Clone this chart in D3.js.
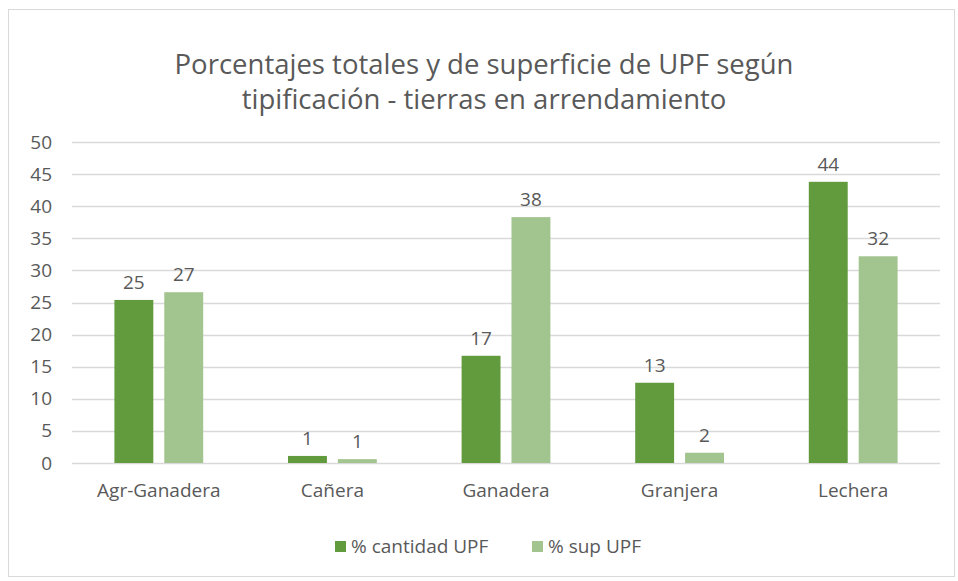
<!DOCTYPE html>
<html>
<head>
<meta charset="utf-8">
<script src="https://cdn.jsdelivr.net/npm/d3@7"></script>
<style>
  body { margin: 0; background: #fff; }
  text { font-family: "Open Sans", "Noto Sans", sans-serif; fill: #595959; }
</style>
</head>
<body>
<script>
// data
var categories = ["Agr-Ganadera", "Cañera", "Ganadera", "Granjera", "Lechera"];
var seriesNames = ["% cantidad UPF", "% sup UPF"];
var cantidad = [25.4, 1.1, 16.7, 12.5, 43.8];
var superficie = [26.6, 0.6, 38.3, 1.6, 32.2];
var yTicks = [0, 5, 10, 15, 20, 25, 30, 35, 40, 45, 50];
var colors = ["#629a3e", "#a2c48f"];

var W = 958, H = 581;
var plotLeft = 72, plotRight = 940, plotTop = 142, plotBottom = 463;
var fs = 19;

var svg = d3.select("body").append("svg")
  .attr("width", W)
  .attr("height", H);

svg.append("rect")
  .attr("x", 8.5).attr("y", 9.5)
  .attr("width", W - 12).attr("height", H - 14)
  .attr("fill", "#fff")
  .attr("stroke", "#d9d9d9");

// title
var title = svg.append("text")
  .attr("text-anchor", "middle")
  .attr("font-size", 27.5);
title.append("tspan").attr("x", 484).attr("y", 74).text("Porcentajes totales y de superficie de UPF según");
title.append("tspan").attr("x", 484).attr("y", 109).text("tipificación - tierras en arrendamiento");

var x = d3.scaleBand().domain(categories).range([plotLeft, plotRight]);
var x1 = d3.scaleBand().domain([0, 1]).range([0, x.bandwidth()]).paddingInner(0.22).paddingOuter(0.85);
var y = d3.scaleLinear().domain([0, 50]).range([plotBottom, plotTop]);

// grid
svg.append("g").selectAll("line")
  .data(yTicks)
  .enter().append("line")
  .attr("x1", plotLeft).attr("x2", plotRight)
  .attr("y1", function(d){ return Math.round(y(d)) + 0.5; })
  .attr("y2", function(d){ return Math.round(y(d)) + 0.5; })
  .attr("stroke", "#d9d9d9")
  .attr("stroke-width", 1.3);

// y axis labels
var yAxis = svg.append("g")
  .attr("transform", "translate(" + (plotLeft - 20) + ",0)")
  .call(d3.axisLeft(y).tickValues(yTicks).tickSize(0).tickPadding(0));
yAxis.select(".domain").remove();
yAxis.selectAll("text").attr("font-size", fs).attr("fill", "#595959")
  .attr("font-family", "Open Sans, sans-serif");

// x axis labels
var xAxis = svg.append("g")
  .attr("transform", "translate(0," + plotBottom + ")")
  .call(d3.axisBottom(x).tickSize(0).tickPadding(21));
xAxis.select(".domain").remove();
xAxis.selectAll("text").attr("font-size", fs).attr("fill", "#595959")
  .attr("font-family", "Open Sans, sans-serif");

var series = [cantidad, superficie];

series.forEach(function(vals, s){
  var g = svg.append("g");
  g.selectAll("rect")
    .data(vals)
    .enter().append("rect")
    .attr("x", function(d, i){ return x(categories[i]) + x1(s); })
    .attr("width", x1.bandwidth())
    .attr("y", function(d){ return y(d); })
    .attr("height", function(d){ return plotBottom - y(d); })
    .attr("fill", colors[s]);
  g.selectAll("text")
    .data(vals)
    .enter().append("text")
    .attr("text-anchor", "middle")
    .attr("font-size", fs)
    .attr("x", function(d, i){ return x(categories[i]) + x1(s) + x1.bandwidth() / 2; })
    .attr("y", function(d){ return y(d) - 11; })
    .text(function(d){ return Math.round(d); });
});

// legend
var legend = svg.append("g");
var legendX = [335, 532];
seriesNames.forEach(function(name, i){
  legend.append("rect")
    .attr("x", legendX[i]).attr("y", 541)
    .attr("width", 11).attr("height", 11)
    .attr("fill", colors[i]);
  legend.append("text")
    .attr("x", legendX[i] + 16).attr("y", 553)
    .attr("font-size", fs)
    .text(name);
});
</script>
</body>
</html>
